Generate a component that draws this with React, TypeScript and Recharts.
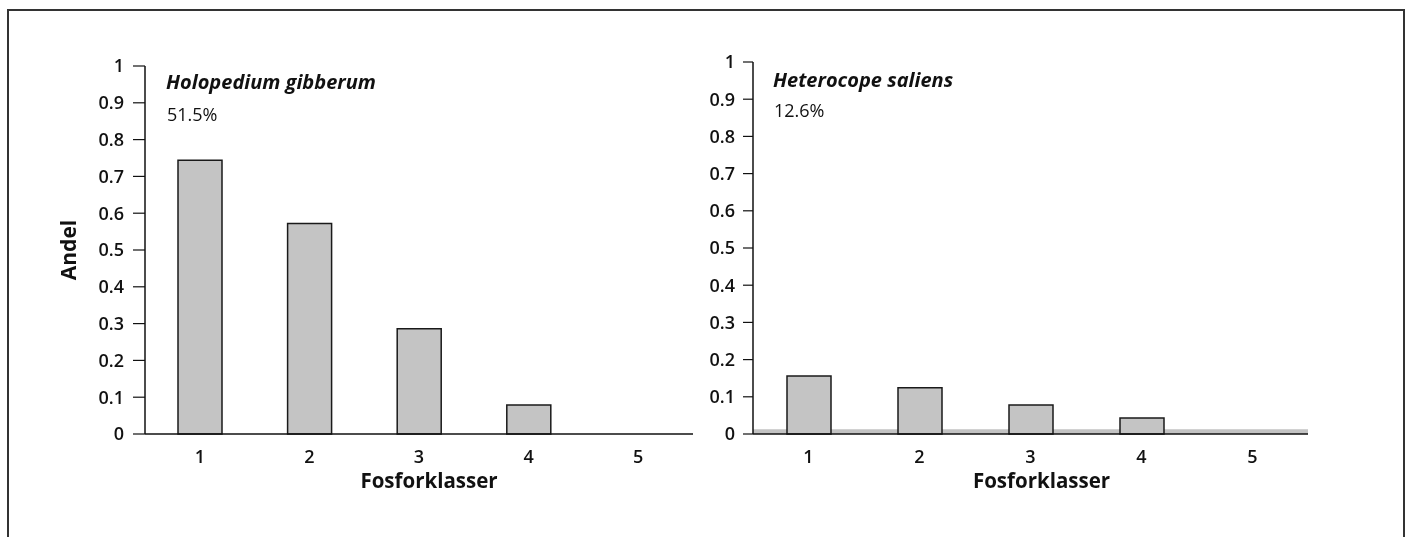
import React from "react";
import { BarChart, Bar, XAxis, YAxis, ReferenceArea } from "recharts";

const categories = ["1", "2", "3", "4", "5"];
const holopediumValues = [0.744, 0.572, 0.286, 0.079, 0];
const heterocopeValues = [0.156, 0.124, 0.078, 0.043, 0];
const yTicks = [0, 0.1, 0.2, 0.3, 0.4, 0.5, 0.6, 0.7, 0.8, 0.9, 1];

const FONT = "'Open Sans', 'Noto Sans', sans-serif";
const INK = "#111";

const tickStyle = { fontFamily: FONT, fontSize: 18, fontWeight: 600, fill: INK };

type PanelProps = {
    values: number[];
    width: number;
    yAxisWidth: number;
    marginTop: number;
    marginRight: number;
    tickSize: number;
    tickMargin: number;
    labelDx: number;
    showYLabel: boolean;
    baseStrip?: boolean;
};

function Panel({ values, width, yAxisWidth, marginTop, marginRight, tickSize, tickMargin, labelDx, showYLabel, baseStrip }: PanelProps) {
    const data = categories.map((c, i) => ({ klass: c, andel: values[i] }));
    return (
        <BarChart
            width={width}
            height={520}
            data={data}
            margin={{ top: marginTop, right: marginRight, left: 0, bottom: 34 }}
        >
            <XAxis
                dataKey="klass"
                tickLine={false}
                axisLine={{ stroke: INK, strokeWidth: 1.5 }}
                tick={tickStyle}
                tickSize={6}
                tickMargin={10}
                height={60}
                label={{
                    value: "Fosforklasser",
                    position: "insideTop",
                    offset: 39,
                    dx: labelDx,
                    style: { fontFamily: FONT, fontSize: 20.5, fontWeight: 700, fill: INK },
                }}
            />
            <YAxis
                type="number"
                domain={[0, 1]}
                ticks={yTicks}
                interval={0}
                width={yAxisWidth}
                tick={tickStyle}
                tickSize={tickSize}
                tickMargin={tickMargin}
                axisLine={{ stroke: INK, strokeWidth: 1.5 }}
                tickLine={{ stroke: INK, strokeWidth: 1.2 }}
                label={
                    showYLabel
                        ? {
                              value: "Andel",
                              angle: -90,
                              position: "insideLeft",
                              offset: 61,
                              style: { fontFamily: FONT, fontSize: 21, fontWeight: 700, fill: INK, textAnchor: "middle" },
                          }
                        : undefined
                }
            />
            {baseStrip && (
                <ReferenceArea y1={0} y2={0.013} fill="#bdbdbd" fillOpacity={0.9} stroke="none" ifOverflow="visible" />
            )}
            <Bar dataKey="andel" fill="#c4c4c4" stroke="#1a1a1a" strokeWidth={1.5} barSize={44} isAnimationActive={false} />
        </BarChart>
    );
}

const textBase: React.CSSProperties = { position: "absolute", fontFamily: FONT, color: INK, lineHeight: 1, whiteSpace: "nowrap" };

export default function App() {
    return (
        <div style={{ position: "relative", width: 1392, height: 520 }}>
            {/* ram runt figuren */}
            <div
                style={{
                    position: "fixed",
                    left: 7,
                    top: 9,
                    width: 1398,
                    height: 600,
                    border: "2px solid #333",
                    boxSizing: "border-box",
                }}
            />
            <div style={{ position: "absolute", left: 0, top: 0 }}>
                <Panel
                    values={holopediumValues}
                    width={692}
                    yAxisWidth={137}
                    marginTop={58}
                    marginRight={7}
                    tickSize={12}
                    tickMargin={9}
                    labelDx={10}
                    showYLabel
                />
            </div>
            <div style={{ position: "absolute", left: 692, top: 0 }}>
                <Panel
                    values={heterocopeValues}
                    width={640}
                    yAxisWidth={53}
                    marginTop={54}
                    marginRight={32}
                    tickSize={10}
                    tickMargin={8}
                    labelDx={11}
                    showYLabel={false}
                    baseStrip
                />
            </div>

            <div style={{ ...textBase, left: 158, top: 63.5, fontSize: 20, fontWeight: 700, fontStyle: "italic" }}>
                Holopedium gibberum
            </div>
            <div style={{ ...textBase, left: 159, top: 97, fontSize: 18 }}>51.5%</div>

            <div style={{ ...textBase, left: 765, top: 61.5, fontSize: 20, fontWeight: 700, fontStyle: "italic" }}>
                Heterocope saliens
            </div>
            <div style={{ ...textBase, left: 766, top: 93, fontSize: 18 }}>12.6%</div>
        </div>
    );
}
